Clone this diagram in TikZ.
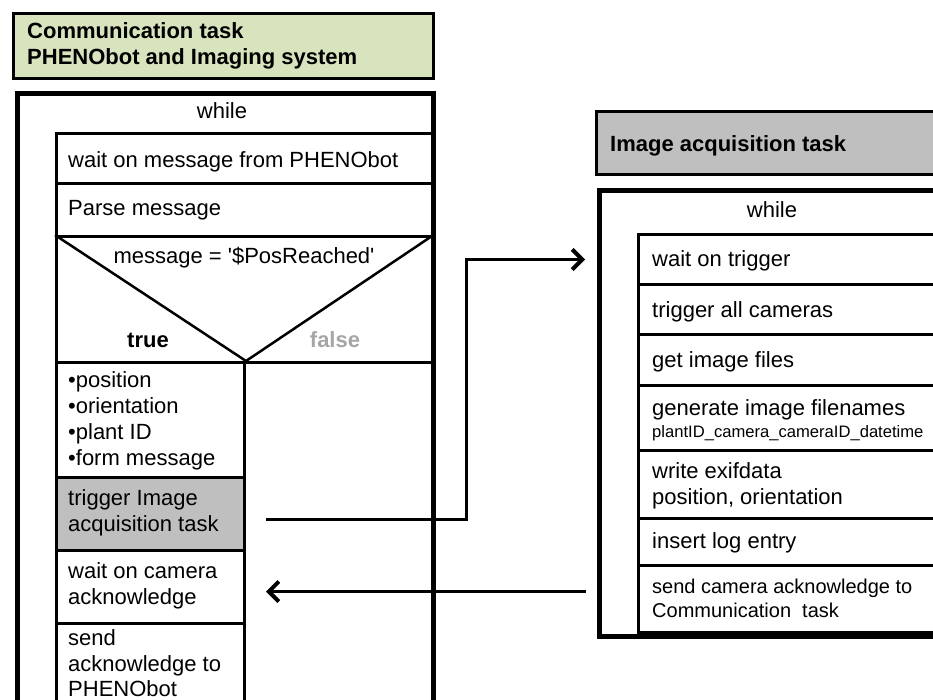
\documentclass[tikz,border=0pt]{standalone}
\usepackage{fontspec}
\setmainfont{Liberation Sans}
\usetikzlibrary{arrows.meta,calc}
\definecolor{hdrgreen}{HTML}{D7E4BD}
\definecolor{hdrgray}{HTML}{BFBFBF}
\definecolor{falsegray}{HTML}{A6A6A6}
\begin{document}
\begin{tikzpicture}[x=1pt,y=-1pt,
  cell/.style={draw, line width=3pt, inner sep=0pt, anchor=north west, fill=white},
  loopbox/.style={draw, line width=5pt, inner sep=0pt, anchor=north west, fill=white},
  txt/.style={anchor=base west, inner sep=0pt, font=\fontsize{22}{26}\selectfont},
  ctxt/.style={anchor=base, inner sep=0pt, font=\fontsize{22}{26}\selectfont},
  smalltxt/.style={anchor=base west, inner sep=0pt, font=\fontsize{16.6}{20}\selectfont},
  midtxt/.style={anchor=base west, inner sep=0pt, font=\fontsize{20}{24}\selectfont},
  conn/.style={line width=3pt, -{Straight Barb[length=10pt,width=20pt,line width=4pt]}}
]
\useasboundingbox (0,0) rectangle (933,699);
\clip (0,0) rectangle (933,699);

% ---------- left: communication task ----------
\node[cell, fill=hdrgreen, minimum width=420, minimum height=65] (ctitle) at (12,12) {};
\node[txt, font=\fontsize{22}{26}\selectfont\bfseries] (ct1) at (27,38) {Communication task};
\node[txt, font=\fontsize{22}{26}\selectfont\bfseries] (ct2) at (27,64) {PHENObot and Imaging system};

\node[loopbox, minimum width=416, minimum height=650] (cwhile) at (14.5,91) {};
\node[ctxt] (cwt) at (222,118) {while};

\node[cell, minimum width=375.5, minimum height=50] (r1) at (55,132) {};
\node[txt] at (68,167) {wait on message from PHENObot};
\node[cell, minimum width=375.5, minimum height=53] (r2) at (55,182) {};
\node[txt] at (68,215) {Parse message};

\node[cell, minimum width=375.5, minimum height=126] (dec) at (55,235) {};
\node[ctxt] (dect) at (244,263) {message = \textquotesingle\$PosReached\textquotesingle};
\node[ctxt, font=\fontsize{22}{26}\selectfont\bfseries] (tr) at (148,347) {true};
\node[ctxt, font=\fontsize{22}{26}\selectfont\bfseries, text=falsegray] (fa) at (335,347) {false};

\node[cell, minimum width=188, minimum height=115] (bul) at (55,361) {};
\node[txt] at (68,387) {•position};
\node[txt] at (68,413) {•orientation};
\node[txt] at (68,439) {•plant ID};
\node[txt] at (68,465) {•form message};

\node[cell, fill=hdrgray, minimum width=188, minimum height=73] (trig) at (55,476) {};
\node[txt] at (68,505) {trigger Image};
\node[txt] at (68,531) {acquisition task};

\node[cell, minimum width=188, minimum height=73] (waitcam) at (55,549) {};
\node[txt] at (68,578) {wait on camera};
\node[txt] at (68,604) {acknowledge};

\node[cell, minimum width=188, minimum height=130] (sendack) at (55,622) {};
\node[txt] at (68,645) {send};
\node[txt] at (68,671) {acknowledge to};
\node[txt] at (68,696) {PHENObot};

\node[cell, minimum width=187.5, minimum height=390] (falsecol) at (243,361) {};

\draw[line width=2.5pt] (dec.north west) -- (bul.north east) -- (dec.north east);

% ---------- right: image acquisition task ----------
\node[cell, fill=hdrgray, minimum width=360, minimum height=63] (ititle) at (595,110) {};
\node[txt, font=\fontsize{22}{26}\selectfont\bfseries] at (610,151) {Image acquisition task};

\node[loopbox, minimum width=360, minimum height=446] (iwhile) at (597,188) {};
\node[ctxt] at (772,217) {while};

\node[cell, minimum width=320, minimum height=50] (s1) at (637,233) {};
\node[txt] at (652,266) {wait on trigger};
\node[cell, minimum width=320, minimum height=50] (s2) at (637,283) {};
\node[txt] at (652,317) {trigger all cameras};
\node[cell, minimum width=320, minimum height=51] (s3) at (637,333) {};
\node[txt] at (652,367) {get image files};
\node[cell, minimum width=320, minimum height=65] (s4) at (637,384) {};
\node[txt] at (652,415) {generate image filenames};
\node[smalltxt] at (652,437) {plantID\_camera\_cameraID\_datetime};
\node[cell, minimum width=320, minimum height=68] (s5) at (637,449) {};
\node[txt] at (652,478) {write exifdata};
\node[txt] at (652,504) {position, orientation};
\node[cell, minimum width=320, minimum height=47] (s6) at (637,517) {};
\node[txt] at (652,548) {insert log entry};
\node[cell, minimum width=320, minimum height=67] (s7) at (637,564) {};
\node[midtxt] at (652,593) {send camera acknowledge to};
\node[midtxt] at (652,617) {Communication\ \ task};

% ---------- connectors ----------
\coordinate (a1s) at ([xshift=20pt,yshift=-5.5pt]trig.east);
\coordinate (a1e) at ([xshift=-52pt]s1.west);
\coordinate (a1c) at ([xshift=-171pt]s1.west);
\draw[conn] (a1s) -| (a1c) -- (a1e);

\coordinate (a2s) at ([xshift=-51pt,yshift=7.5pt]s7.west);
\coordinate (a2e) at ([xshift=20pt,yshift=-4.5pt]waitcam.east);
\draw[conn] (a2s) -- (a2e);
\end{tikzpicture}
\end{document}
